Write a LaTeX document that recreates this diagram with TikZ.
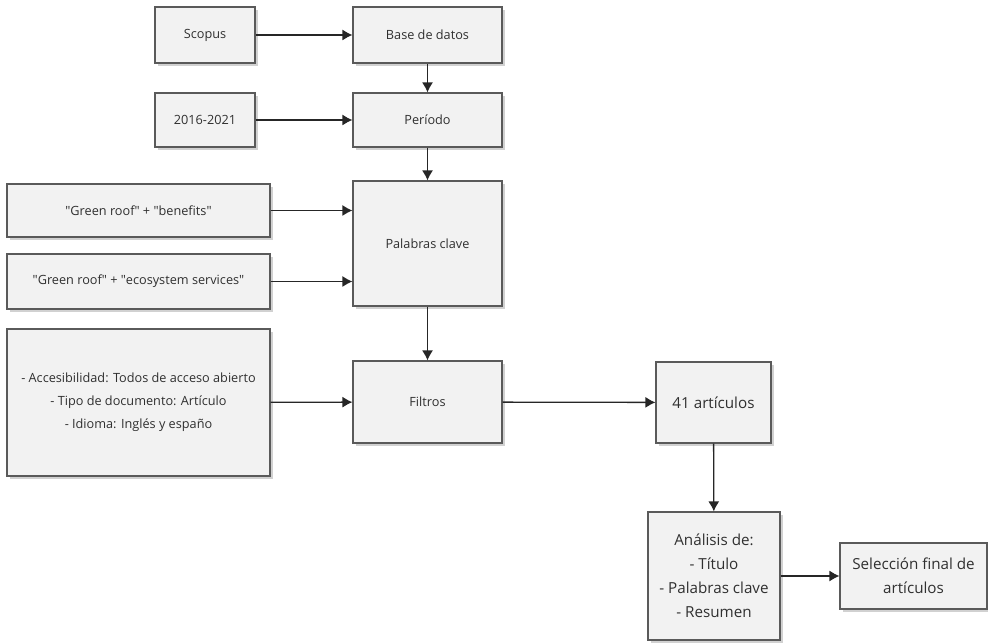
\documentclass[tikz,border=0pt]{standalone}
\usepackage{fontspec}
\setmainfont{Open Sans}
\usepackage{tikz}
\usetikzlibrary{positioning, arrows.meta, shadows}
\definecolor{BoxFill}{HTML}{F2F2F2}
\definecolor{BoxLine}{HTML}{5A5A5A}
\definecolor{TextGray}{HTML}{303030}
\newcommand{\qt}[1]{\textquotedbl#1\textquotedbl}

\begin{document}
\begin{tikzpicture}[
    x=1pt, y=-1pt,
    every node/.style={font=\fontsize{12.7}{23}\selectfont, text=TextGray},
    big/.style={font=\fontsize{15.2}{24}\selectfont},
    box/.style={draw=BoxLine, line width=1.1pt, fill=BoxFill, align=center, inner sep=2pt,
                drop shadow={shadow xshift=3pt, shadow yshift=-3pt,
                             fill=black!30, opacity=0.6}},
    arr/.style={-{Latex[length=10pt, width=11pt]}, line width=1.3pt, draw=black!85},
  ]
    \useasboundingbox (0,0) rectangle (988,644);

    \node[box, minimum width=100, minimum height=56]  (scopus) at (205,35)    {Scopus};
    \node[box, minimum width=149, minimum height=56]  (base)   at (427.5,35)  {Base de datos};
    \node[box, minimum width=100, minimum height=54]  (years)  at (205,120)   {2016-2021};
    \node[box, minimum width=149, minimum height=54]  (period) at (427.5,120) {Período};
    \node[box, minimum width=149, minimum height=125] (keys)   at (427.5,243.5) {Palabras clave};
    \node[box, minimum width=263, minimum height=53]  (kwa)    at (138.5,210.5)
      {\qt{Green roof} + \qt{benefits}};
    \node[box, minimum width=263, minimum height=55]  (kwb)    at (138.5,281.5)
      {\qt{Green roof} + \qt{ecosystem services}};
    \node[box, minimum width=263, minimum height=147] (crit)   at (138.5,402.5)
      {- Accesibilidad: Todos de acceso abierto\\- Tipo de documento: Artículo\\- Idioma: Inglés y españo};
    \node[box, minimum width=149, minimum height=82]  (filt)   at (427.5,402) {Filtros};
    \node[box, big, minimum width=115, minimum height=81]  (arts) at (713.5,402.5) {41 artículos};
    \node[box, big, minimum width=132, minimum height=128] (anal) at (714,576)
      {Análisis de:\\- Título\\- Palabras clave\\- Resumen};
    \node[box, big, minimum width=147, minimum height=66]  (sel)  at (913.5,576)
      {Selección final de\\artículos};

    \draw[arr] (scopus) -- (base);
    \draw[arr] (base) -- (period);
    \draw[arr] (years) -- (period);
    \draw[arr] (period) -- (keys);
    \draw[arr] (kwa.east) -- (kwa.east -| keys.west);
    \draw[arr] (kwb.east) -- (kwb.east -| keys.west);
    \draw[arr] (keys) -- (filt);
    \draw[arr] (crit) -- (filt);
    \draw[arr] (filt) -- (arts);
    \draw[arr] (arts) -- (anal);
    \draw[arr] (anal) -- (sel);
\end{tikzpicture}
\end{document}
